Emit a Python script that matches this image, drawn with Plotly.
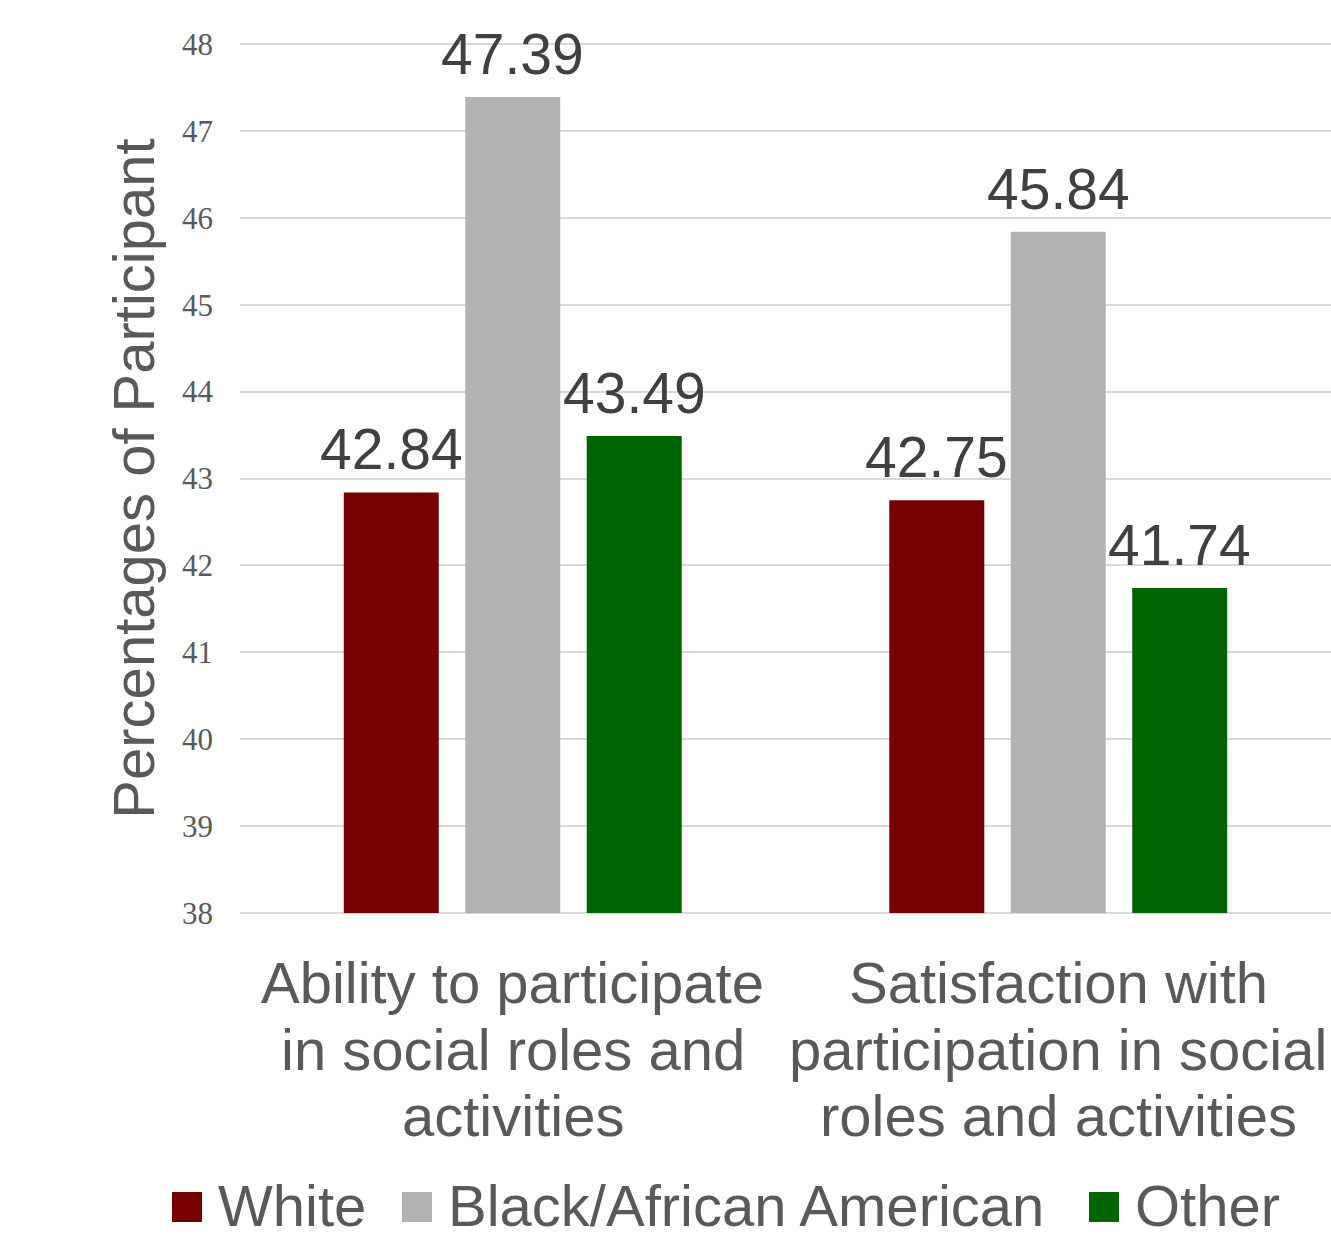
import plotly.graph_objects as go

# ---- data ----
categories = [
    "Ability to participate in social roles and activities",
    "Satisfaction with participation in social roles and activities",
]
category_lines = [
    ["Ability to participate", "in social roles and", "activities"],
    ["Satisfaction with", "participation in social", "roles and activities"],
]
series_names = ["White", "Black/African American", "Other"]
white = [42.84, 42.75]
black = [47.39, 45.84]
other = [43.49, 41.74]
y_ticks = [38, 39, 40, 41, 42, 43, 44, 45, 46, 47, 48]

# ---- styling ----
colors = ["#760000", "#b2b2b2", "#006400"]
SANS = "Liberation Sans, Arial, sans-serif"
SERIF = "Liberation Serif, Times New Roman, serif"
GRID = "#d9d9d9"
W, H = 1331, 1238
M_L, M_R, M_T, M_B = 240, 0, 44, 325
BARGAP, GROUPGAP = 0.332, 0.218
Y_RANGE = [38, 48]


def px_to_paper_x(px):
    return (px - M_L) / (W - M_L - M_R)


def px_to_paper_y(py):
    return (H - M_B - py) / (H - M_T - M_B)


def data_to_paper_y(v):
    return (v - Y_RANGE[0]) / (Y_RANGE[1] - Y_RANGE[0])


fig = go.Figure()
series = [white, black, other]
for name, vals, col in zip(series_names, series, colors):
    fig.add_trace(go.Bar(
        name=name,
        x=list(range(len(categories))),
        y=vals,
        marker=dict(color=col, line=dict(width=0)),
        showlegend=False,
        hovertext=categories,
    ))

annotations = []
shapes = []

# gridlines at the two ends of the value range (plotly skips edge gridlines)
for v in (y_ticks[0], y_ticks[-1]):
    shapes.append(dict(
        type="line", xref="paper", yref="paper",
        x0=0, x1=1, y0=data_to_paper_y(v), y1=data_to_paper_y(v),
        line=dict(color=GRID, width=2), layer="below",
    ))

# value labels above each bar
slot = (1 - BARGAP) / len(series)
for i, vals in enumerate(series):
    offset = (i - (len(series) - 1) / 2) * slot
    for j, v in enumerate(vals):
        annotations.append(dict(
            x=j + offset, y=v, xref="x", yref="y",
            text=f"{v:.2f}", showarrow=False,
            xanchor="center", yanchor="bottom", yshift=10, borderpad=0,
            font=dict(family=SANS, size=57, color="#404040"),
        ))

# category labels below the axis
line_shifts = [-69, -136, -202]
for j, lines in enumerate(category_lines):
    for line, shift in zip(lines, line_shifts):
        annotations.append(dict(
            x=j, y=0, xref="x", yref="paper",
            text=line, showarrow=False,
            xanchor="center", yanchor="middle", yshift=shift, borderpad=0,
            font=dict(family=SANS, size=58, color="#595959"),
        ))

# legend: coloured squares with series names
legend_square_left = [172, 402, 1089]
square_size = 30
legend_center_y = 1207
for name, col, left in zip(series_names, colors, legend_square_left):
    shapes.append(dict(
        type="rect", xref="paper", yref="paper",
        x0=px_to_paper_x(left), x1=px_to_paper_x(left + square_size),
        y0=px_to_paper_y(legend_center_y + square_size / 2),
        y1=px_to_paper_y(legend_center_y - square_size / 2),
        fillcolor=col, line=dict(width=0),
    ))
    annotations.append(dict(
        x=px_to_paper_x(left + square_size + 15), y=px_to_paper_y(legend_center_y - 2),
        xref="paper", yref="paper",
        text=name, showarrow=False,
        xanchor="left", yanchor="middle", borderpad=0,
        font=dict(family=SANS, size=58, color="#595959"),
    ))

fig.update_layout(
    width=W,
    height=H,
    margin=dict(l=M_L, r=M_R, t=M_T, b=M_B),
    paper_bgcolor="white",
    plot_bgcolor="white",
    barmode="group",
    bargap=BARGAP,
    bargroupgap=GROUPGAP,
    showlegend=False,
    annotations=annotations,
    shapes=shapes,
    xaxis=dict(
        range=[-0.5, len(categories) - 0.5],
        showgrid=False,
        showline=False,
        zeroline=False,
        ticks="",
        showticklabels=False,
    ),
    yaxis=dict(
        range=Y_RANGE,
        tickvals=y_ticks,
        ticktext=[str(t) for t in y_ticks],
        showgrid=True,
        gridcolor=GRID,
        gridwidth=2,
        zeroline=False,
        showline=False,
        ticks="",
        ticklabelstandoff=26,
        tickfont=dict(family=SERIF, size=31, color="#595959"),
        title=dict(
            text="Percentages of Participant",
            font=dict(family=SANS, size=58, color="#595959"),
            standoff=8,
        ),
    ),
)

fig.write_html("out.html")
